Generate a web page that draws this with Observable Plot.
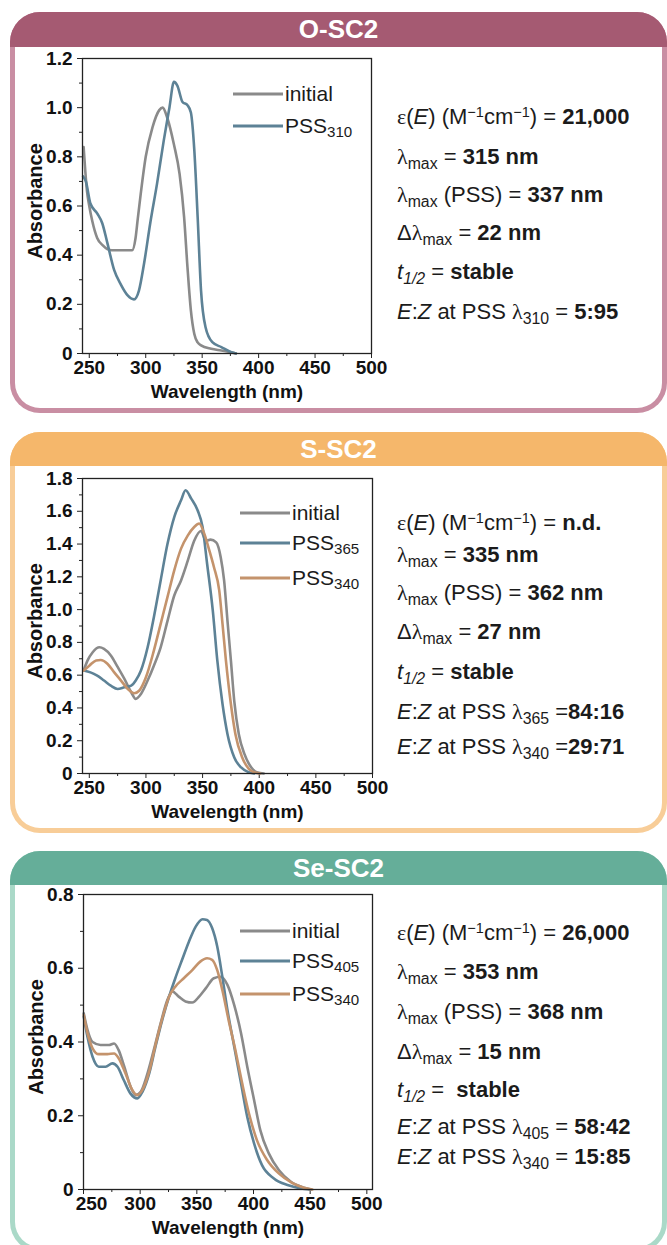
<!DOCTYPE html>
<html>
<head>
<meta charset="utf-8">
<script src="https://cdn.jsdelivr.net/npm/d3@7"></script>
<script src="https://cdn.jsdelivr.net/npm/@observablehq/plot@0.6"></script>
<style>
  html,body{margin:0;padding:0;background:#fff;}
  body{width:667px;height:1245px;position:relative;overflow:hidden;font-family:"Liberation Sans",Arial,sans-serif;color:#1b1b1b;}
  .card{position:absolute;left:10px;width:657px;border-radius:30px;overflow:hidden;}
  .head{position:absolute;left:0;right:0;top:0;color:#fff;font-weight:bold;text-align:center;font-size:26px;}
  .cbody{position:absolute;left:5px;right:5px;bottom:5px;background:#fff;border-radius:0 0 25px 25px;}
  .info{position:absolute;left:397px;font-size:22px;white-space:nowrap;line-height:1;}
  .info div, .legend div{position:absolute;left:0;transform:translateY(-50%);white-space:nowrap;line-height:1;}
  .legend{position:absolute;font-size:21px;}
  .legend .ln{display:inline-block;width:50px;height:3px;vertical-align:middle;margin-right:2px;position:relative;top:-1px;}
  sub{font-size:0.72em;vertical-align:-0.32em;line-height:0;}
  sup{font-size:0.66em;vertical-align:0.5em;line-height:0;}
  .g{font-family:"Liberation Serif","Times New Roman",serif;}
</style>
</head>
<body>
<script>
// ---------------- data ----------------
const xMajor = [250, 300, 350, 400, 450, 500];
const xMinor = [275, 325, 375, 425, 475];

const titles = ["O-SC2", "S-SC2", "Se-SC2"];

// O-SC2
const O_yMajor = [0, 0.2, 0.4, 0.6, 0.8, 1.0, 1.2];
const O_yMinor = [0.1, 0.3, 0.5, 0.7, 0.9, 1.1];
const O_initial = [[245,0.84],[246.5,0.74],[248,0.66],[250,0.6],[252.6,0.54],[257,0.47],[262,0.44],[266,0.425],[270,0.42],[278,0.42],[285,0.42],[288,0.42],[291,0.47],[293,0.55],[295.6,0.65],[300,0.80],[306,0.92],[312,0.99],[315,1.0],[319,0.96],[325,0.85],[330,0.73],[334,0.555],[337,0.35],[340,0.175],[343,0.08],[346,0.045],[349,0.033],[358,0.019],[367,0.012],[375.6,0.005],[380,0]];
const O_pss310 = [[244.6,0.72],[247,0.70],[251,0.61],[257,0.57],[261.5,0.53],[266,0.45],[272,0.34],[278,0.28],[284,0.236],[289.6,0.22],[294,0.256],[298.5,0.365],[304,0.53],[310,0.69],[316,0.867],[321,1.0],[325,1.105],[328,1.09],[332.6,1.023],[337,1.01],[340,0.98],[343,0.83],[346,0.555],[349,0.256],[353,0.107],[359,0.046],[367,0.026],[376,0.005],[380,0]];

// S-SC2
const S_yMajor = [0, 0.2, 0.4, 0.6, 0.8, 1.0, 1.2, 1.4, 1.6, 1.8];
const S_yMinor = [0.1, 0.3, 0.5, 0.7, 0.9, 1.1, 1.3, 1.5, 1.7];
const S_initial = [[245,0.628],[248.5,0.69],[253,0.74],[259,0.77],[263,0.76],[269,0.72],[275,0.65],[281,0.577],[287,0.495],[291,0.455],[295.6,0.485],[301.5,0.567],[307,0.658],[313,0.77],[319,0.93],[325,1.086],[331,1.178],[337,1.30],[342.6,1.42],[348.5,1.48],[353,1.42],[357,1.427],[362,1.41],[366,1.32],[369,1.178],[372,0.93],[375,0.69],[378,0.44],[382,0.24],[387,0.118],[393,0.037],[398.5,0.006],[404,0]];
const S_pss365 = [[245,0.628],[251,0.617],[257,0.597],[263,0.567],[269,0.536],[275,0.516],[281,0.526],[287,0.536],[291,0.567],[295.6,0.628],[301.5,0.77],[307,0.954],[313,1.178],[319,1.40],[325,1.565],[331,1.667],[335,1.728],[340,1.677],[345.6,1.606],[350,1.504],[354,1.28],[359,0.995],[363,0.69],[367.6,0.424],[372,0.24],[378,0.098],[384,0.037],[390,0.01],[395.6,0]];
const S_pss340 = [[245,0.628],[250,0.658],[256,0.69],[260,0.693],[266,0.67],[272,0.617],[278,0.567],[284,0.516],[289.7,0.49],[294,0.505],[300,0.587],[307,0.75],[313,0.913],[319,1.076],[325,1.24],[331,1.372],[337,1.453],[342.6,1.504],[347,1.525],[351.5,1.463],[356,1.36],[360,1.26],[364.7,1.117],[367.6,0.913],[370.6,0.69],[375,0.424],[379,0.24],[385,0.098],[391,0.027],[397,0.004],[401,0]];

// Se-SC2
const Se_yMajor = [0, 0.2, 0.4, 0.6, 0.8];
const Se_yMinor = [0.1, 0.3, 0.5, 0.7];
const Se_initial = [[250.2,0.478],[253.5,0.433],[258,0.40],[265,0.392],[272.5,0.392],[277,0.396],[281,0.378],[286,0.333],[291.5,0.279],[296,0.256],[300.5,0.265],[306,0.31],[312,0.378],[318,0.45],[324,0.514],[328.5,0.537],[334,0.523],[340,0.51],[346,0.507],[352,0.523],[358,0.546],[365,0.573],[371,0.577],[377,0.555],[383,0.50],[389,0.424],[394.5,0.333],[400.5,0.243],[406,0.161],[413.5,0.098],[422.5,0.052],[433,0.021],[444.5,0.005],[450.5,0]];
const Se_pss405 = [[250.2,0.469],[253.5,0.414],[258,0.36],[263.5,0.333],[269.5,0.333],[275.5,0.342],[280,0.333],[285.5,0.297],[291.5,0.26],[297.5,0.247],[302,0.265],[308,0.315],[313.5,0.387],[319.5,0.46],[325.5,0.523],[331,0.573],[337,0.623],[343,0.672],[349,0.713],[355,0.733],[359,0.731],[363.5,0.709],[368,0.659],[372.5,0.577],[377,0.487],[383,0.387],[389,0.288],[394.5,0.197],[400.5,0.125],[407.5,0.066],[418,0.03],[430,0.012],[441.5,0.003],[450.5,0]];
const Se_pss340 = [[250.2,0.473],[253.5,0.424],[258,0.383],[263.5,0.367],[271,0.367],[277,0.369],[281,0.356],[287,0.315],[293,0.27],[297.5,0.256],[302,0.27],[308,0.32],[313.5,0.392],[319.5,0.464],[325.5,0.523],[331,0.55],[338.5,0.573],[346,0.595],[353,0.618],[359,0.627],[363.5,0.623],[368,0.595],[372.5,0.541],[378,0.46],[384,0.378],[390,0.288],[396,0.206],[403,0.134],[412,0.08],[422.5,0.043],[434,0.018],[444.5,0.005],[452,0]];

const seriesNames = [["initial","PSS<sub>310</sub>"],["initial","PSS<sub>365</sub>","PSS<sub>340</sub>"],["initial","PSS<sub>405</sub>","PSS<sub>340</sub>"]];

const O_info = [
  '<span class="g">ε</span>(<i>E</i>) (M<sup>−1</sup>cm<sup>−1</sup>) = <b>21,000</b>',
  '<span class="g">λ</span><sub>max</sub> = <b>315 nm</b>',
  '<span class="g">λ</span><sub>max</sub> (PSS) = <b>337 nm</b>',
  'Δ<span class="g">λ</span><sub>max</sub> = <b>22 nm</b>',
  '<i>t</i><sub><i>1/2</i></sub> = <b>stable</b>',
  '<i>E</i>:<i>Z</i> at PSS <span class="g">λ</span><sub>310</sub> = <b>5:95</b>'
];
const S_info = [
  '<span class="g">ε</span>(<i>E</i>) (M<sup>−1</sup>cm<sup>−1</sup>) = <b>n.d.</b>',
  '<span class="g">λ</span><sub>max</sub> = <b>335 nm</b>',
  '<span class="g">λ</span><sub>max</sub> (PSS) = <b>362 nm</b>',
  'Δ<span class="g">λ</span><sub>max</sub> = <b>27 nm</b>',
  '<i>t</i><sub><i>1/2</i></sub> = <b>stable</b>',
  '<i>E</i>:<i>Z</i> at PSS <span class="g">λ</span><sub>365</sub> =<b>84:16</b>',
  '<i>E</i>:<i>Z</i> at PSS <span class="g">λ</span><sub>340</sub> =<b>29:71</b>'
];
const Se_info = [
  '<span class="g">ε</span>(<i>E</i>) (M<sup>−1</sup>cm<sup>−1</sup>) = <b>26,000</b>',
  '<span class="g">λ</span><sub>max</sub> = <b>353 nm</b>',
  '<span class="g">λ</span><sub>max</sub> (PSS) = <b>368 nm</b>',
  'Δ<span class="g">λ</span><sub>max</sub> = <b>15 nm</b>',
  '<i>t</i><sub><i>1/2</i></sub> = &nbsp;<b>stable</b>',
  '<i>E</i>:<i>Z</i> at PSS <span class="g">λ</span><sub>405</sub> = <b>58:42</b>',
  '<i>E</i>:<i>Z</i> at PSS <span class="g">λ</span><sub>340</sub> = <b>15:85</b>'
];

// ---------------- layout & style ----------------
const FONT = "Liberation Sans, Arial, sans-serif";
const C_INIT = "#8a8a8a", C_BLUE = "#5d8296", C_TAN = "#c4936c";
const panels = [
  {top: 12, head: "#a55a72", border: "#c98ea3", headH: 35, frameTop: 46, frameLeft: 82, frameW: 289, xDomain: [244, 500], firstDx: 0, yMax: 1.2, yMajor: O_yMajor, yMinor: O_yMinor,
   data: [O_initial, O_pss310], colors: [C_INIT, C_BLUE], legendX: 233, legendY: [35, 67], info: O_info, infoY: [105,145,183,221,260,300]},
  {top: 432, head: "#f5b76b", border: "#f8cd98", headH: 34, frameTop: 46, frameLeft: 82, frameW: 290, xDomain: [244, 500], firstDx: 0, yMax: 1.8, yMajor: S_yMajor, yMinor: S_yMinor,
   data: [S_initial, S_pss365, S_pss340], colors: [C_INIT, C_BLUE, C_TAN], legendX: 240, legendY: [34, 64, 99], info: S_info, infoY: [91,123,161,200,240,280,315]},
  {top: 851, head: "#65ae99", border: "#aad9c8", headH: 34, frameTop: 43, frameLeft: 83, frameW: 289, xDomain: [250, 505], firstDx: 8, yMax: 0.8, yMajor: Se_yMajor, yMinor: Se_yMinor,
   data: [Se_initial, Se_pss405, Se_pss340], colors: [C_INIT, C_BLUE, C_TAN], legendX: 240, legendY: [36, 66, 99], info: Se_info, infoY: [82,121,161,201,239,276,306]}
];

const M = {left: 62, right: 11, top: 10, bottom: 54};
const FH = 295;

panels.forEach((p, i) => {
  // card
  const card = document.createElement("div");
  card.className = "card";
  card.style.top = p.top + "px";
  card.style.height = "401px";
  card.style.background = p.border;
  const head = document.createElement("div");
  head.className = "head";
  head.style.background = p.head;
  head.style.height = p.headH + "px";
  head.style.lineHeight = p.headH + "px";
  head.textContent = titles[i];
  const cb = document.createElement("div");
  cb.className = "cbody";
  cb.style.top = p.headH + "px";
  card.appendChild(head);
  card.appendChild(cb);
  document.body.appendChild(card);

  // plot
  const names = seriesNames[i].map(s => s.replace(/<[^>]+>/g, ""));
  const rows = p.data.flatMap((d, k) => d.map(([nm, a]) => ({nm, a, s: names[k] + "#" + k})));
  const keys = names.map((n, k) => n + "#" + k);
  const chart = Plot.plot({
    width: M.left + p.frameW + M.right,
    height: M.top + FH + M.bottom,
    marginLeft: M.left, marginRight: M.right, marginTop: M.top, marginBottom: M.bottom,
    style: {background: "transparent", fontFamily: FONT, fontSize: "19px", fontWeight: "bold", color: "#111", overflow: "visible"},
    x: {domain: p.xDomain},
    y: {domain: [0, p.yMax]},
    color: {domain: keys, range: p.colors},
    marks: [
      Plot.axisX({ticks: xMajor, tickSize: 5, tickPadding: 2, tickFormat: d => (d === xMajor[0] && p.firstDx) ? "" : String(d), label: null, stroke: "#222"}),
      p.firstDx ? Plot.axisX({ticks: [xMajor[0]], tickSize: 0, tickPadding: 7, dx: p.firstDx, tickFormat: d => String(d), label: null}) : null,
      Plot.axisX({ticks: xMinor, tickSize: 3, tickFormat: () => "", label: null, stroke: "#222"}),
      Plot.axisY({ticks: p.yMajor, tickSize: 5, tickPadding: 5, tickFormat: d => d === 0 ? "0" : d.toFixed(1), label: null, stroke: "#222"}),
      Plot.axisY({ticks: p.yMinor, tickSize: 3, tickFormat: () => "", label: null, stroke: "#222"}),
      Plot.line(rows, {x: "nm", y: "a", z: "s", stroke: "s", strokeWidth: 2.6, curve: "monotone-x"}),
      Plot.frame({stroke: "#222", strokeWidth: 1.3}),
      Plot.text(["Wavelength (nm)"], {frameAnchor: "bottom", dy: 38, lineAnchor: "middle", textAnchor: "middle", fontSize: 19, fontWeight: "bold", fill: "#111"}),
      Plot.text(["Absorbance"], {frameAnchor: "left", dx: -47, dy: -5, rotate: -90, lineAnchor: "middle", textAnchor: "middle", fontSize: 20, fontWeight: "bold", fill: "#111"})
    ]
  });
  const frameTopPage = p.top + p.frameTop;
  chart.style.position = "absolute";
  chart.style.top = (frameTopPage - M.top) + "px";
  chart.style.left = (p.frameLeft - M.left) + "px";
  document.body.appendChild(chart);

  // legend
  const lg = document.createElement("div");
  lg.className = "legend";
  lg.style.left = p.legendX + "px";
  lg.style.top = frameTopPage + "px";
  seriesNames[i].forEach((nm, k) => {
    const r = document.createElement("div");
    r.style.top = p.legendY[k] + "px";
    r.innerHTML = `<span class="ln" style="background:${p.colors[k]}"></span>${nm}`;
    lg.appendChild(r);
  });
  document.body.appendChild(lg);

  // info text
  const inf = document.createElement("div");
  inf.className = "info";
  inf.style.top = p.top + "px";
  p.info.forEach((t, k) => {
    const r = document.createElement("div");
    r.style.top = p.infoY[k] + "px";
    r.innerHTML = t;
    inf.appendChild(r);
  });
  document.body.appendChild(inf);
});
</script>
</body>
</html>
